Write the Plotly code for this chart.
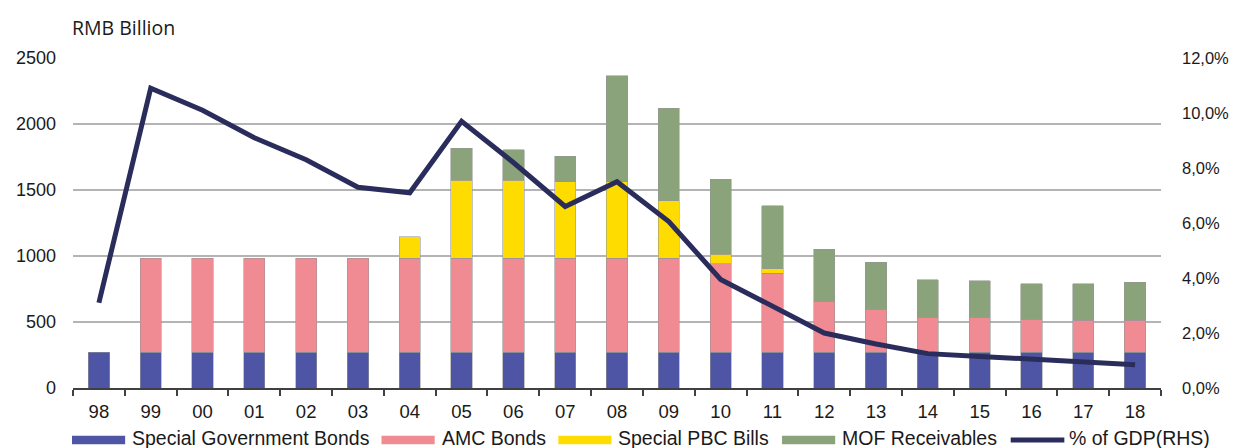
import plotly.graph_objects as go

# ---------------- data ----------------
years = ["98", "99", "00", "01", "02", "03", "04", "05", "06", "07", "08",
         "09", "10", "11", "12", "13", "14", "15", "16", "17", "18"]
special_gov_bonds = [270, 270, 270, 270, 270, 270, 270, 270, 270, 270, 270,
                     270, 270, 270, 270, 270, 270, 270, 270, 270, 270]
amc_bonds = [None, 712, 712, 712, 712, 712, 712, 712, 712, 712, 712,
             712, 672, 600, 387, 326, 265, 265, 252, 245, 245]
special_pbc_bills = [None, None, None, None, None, None, 164, 591, 591, 579, 580,
                     437, 71, 32, None, None, None, None, None, None, None]
mof_receivables = [None, None, None, None, None, None, None, 243, 233, 194, 804,
                   700, 570, 477, 396, 356, 286, 276, 268, 275, 285]
pct_of_gdp = [3.1, 10.9, 10.1, 9.1, 8.3, 7.3, 7.1, 9.7, 8.2, 6.6, 7.5,
              6.05, 3.95, 2.95, 2.0, 1.6, 1.25, 1.15, 1.05, 0.95, 0.85]

series_names = ["Special Government Bonds", "AMC Bonds", "Special PBC Bills",
                "MOF Receivables", "% of GDP(RHS)"]
bar_values = [special_gov_bonds, amc_bonds, special_pbc_bills, mof_receivables]
colors = ["#4E55A4", "#F08A93", "#FFDC00", "#8BA37B", "#2A2D5C"]

left_ticks = [0, 500, 1000, 1500, 2000, 2500]
right_ticks = [0, 2, 4, 6, 8, 10, 12]
right_tick_text = [f"{v:.1f}%".replace(".", ",") for v in right_ticks]

# ---------------- layout constants ----------------
W, H = 1241, 448
PX0, PX1, PY_TOP, PY_BOT = 72.7, 1168.0, 57.7, 388.0
TXT = "#1a1a1a"
FONT = "Liberation Sans, Arial, sans-serif"


def px_to_paper_x(px):
    return (px - PX0) / (PX1 - PX0)


def px_to_paper_y(py):
    return (PY_BOT - py) / (PY_BOT - PY_TOP)


fig = go.Figure()

for name, vals, col in zip(series_names[:4], bar_values, colors[:4]):
    fig.add_trace(go.Bar(
        x=years, y=vals, name=name, marker_color=col,
        marker_line=dict(color="rgba(150,150,150,0.7)", width=0.8),
        showlegend=False,
    ))

fig.add_trace(go.Scatter(
    x=years, y=pct_of_gdp, name=series_names[4], yaxis="y2", mode="lines",
    line=dict(color=colors[4], width=5), showlegend=False,
))

# ---------------- manual legend (wide symbols as in original) ----------------
legend_x = [71.7, 383.3, 561.3, 786.5, 1014.7]   # left edges of legend symbols, px
sym_w = 53.5
legend_y = 440.0
shapes = []
annotations = []
for i, (name, col) in enumerate(zip(series_names, colors)):
    x0 = legend_x[i]
    if i < 4:
        shapes.append(dict(type="rect", xref="paper", yref="paper",
                           x0=px_to_paper_x(x0), x1=px_to_paper_x(x0 + sym_w),
                           y0=px_to_paper_y(legend_y - 4.3), y1=px_to_paper_y(legend_y + 4.3),
                           fillcolor=col, line=dict(width=0)))
        tx = x0 + sym_w + 5
    else:
        shapes.append(dict(type="line", xref="paper", yref="paper",
                           x0=px_to_paper_x(x0 + 2), x1=px_to_paper_x(x0 + 56),
                           y0=px_to_paper_y(legend_y), y1=px_to_paper_y(legend_y),
                           line=dict(color=col, width=5)))
        tx = x0 + 59
    annotations.append(dict(text=name, xref="paper", yref="paper",
                            x=px_to_paper_x(tx), y=px_to_paper_y(438),
                            xanchor="left", yanchor="middle", showarrow=False,
                            font=dict(family=FONT, size=19.5, color=TXT)))

annotations.append(dict(text="RMB Billion", xref="paper", yref="paper",
                        x=px_to_paper_x(70), y=px_to_paper_y(27.5),
                        xanchor="left", yanchor="middle", showarrow=False,
                        font=dict(family="Open Sans, sans-serif", size=19.5, color=TXT)))

fig.update_layout(
    width=W, height=H,
    margin=dict(l=PX0, r=W - PX1, t=PY_TOP, b=H - PY_BOT, pad=0),
    paper_bgcolor="white", plot_bgcolor="white",
    barmode="stack", bargap=0.59,
    showlegend=False,
    font=dict(family=FONT, size=18.5, color=TXT),
    xaxis=dict(type="category", showgrid=False, showline=True,
               linecolor="#404040", linewidth=1.5, ticks="outside",
               tickson="boundaries", ticklen=6, tickcolor="#404040", tickwidth=1.5,
               tickfont=dict(size=18.5, color=TXT), ticklabelstandoff=6,
               range=[-0.5, len(years) - 0.5], fixedrange=True),
    yaxis=dict(range=[0, 2500], tickvals=left_ticks, showgrid=True,
               gridcolor="#B4B4B4", gridwidth=2, zeroline=False, showline=False,
               ticks="", tickfont=dict(size=18, color=TXT), ticklabelstandoff=16),
    yaxis2=dict(range=[0, 12], tickvals=right_ticks, ticktext=right_tick_text,
                overlaying="y", side="right",
                showgrid=False, zeroline=False, showline=False, ticks="",
                tickfont=dict(size=16.5, color=TXT), ticklabelstandoff=20),
    shapes=shapes,
    annotations=annotations,
)

fig.write_html("out.html",
               config={"displayModeBar": False},
               post_script="document.body.style.margin='0px';"
                           "document.body.style.overflow='hidden';")
